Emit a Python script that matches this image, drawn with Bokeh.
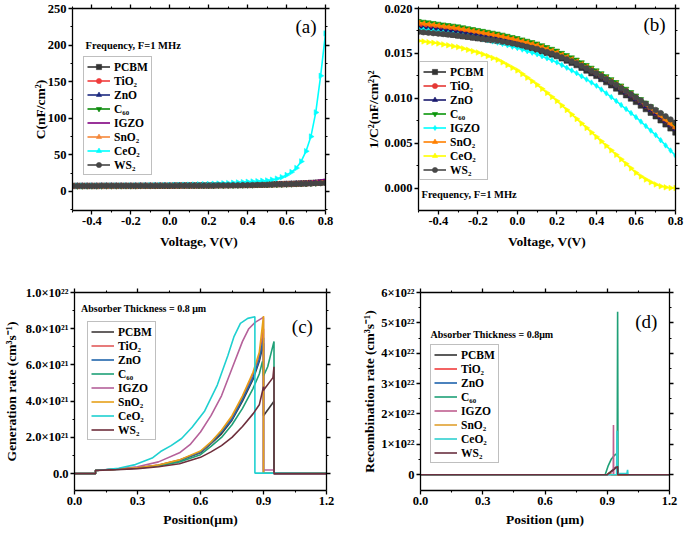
from bokeh.plotting import figure
from bokeh.layouts import column, row
from bokeh.models import (LinearAxis, FixedTicker, NumeralTickFormatter, CustomJSTickFormatter,
                          Legend, LegendItem, Range1d, Label)
from bokeh.embed import file_html
from bokeh.resources import INLINE
import math

FONT = "Liberation Serif"
LABELS = ["PCBM", "TiO₂", "ZnO", "C₆₀", "IGZO", "SnO₂", "CeO₂", "WS₂"]

# ---------------- Panel (a)/(b): voltage sweep ----------------
VOLT = [-0.5, -0.475, -0.45, -0.425, -0.4, -0.375, -0.35, -0.325, -0.3, -0.275, -0.25, -0.225,
        -0.2, -0.175, -0.15, -0.125, -0.1, -0.075, -0.05, -0.025, 0.0, 0.025, 0.05, 0.075,
        0.1, 0.125, 0.15, 0.175, 0.2, 0.225, 0.25, 0.275, 0.3, 0.325, 0.35, 0.375,
        0.4, 0.425, 0.45, 0.475, 0.5, 0.525, 0.55, 0.575, 0.6, 0.625, 0.65, 0.675,
        0.7, 0.725, 0.75, 0.775, 0.8]

# (a) capacitance C (nF/cm^2)
PCBM_A = [7.6, 7.6, 7.6, 7.6, 7.6, 7.6, 7.7, 7.7, 7.7, 7.7, 7.7, 7.7, 7.7, 7.7, 7.8, 7.8, 7.8, 7.8, 7.9, 7.9,
          7.9, 8.0, 8.0, 8.1, 8.1, 8.1, 8.2, 8.2, 8.2, 8.3, 8.4, 8.4, 8.5, 8.6, 8.7, 8.8, 8.9, 9.0, 9.2, 9.3,
          9.5, 9.7, 9.9, 10.0, 10.2, 10.4, 10.7, 10.9, 11.2, 11.6, 11.9, 12.3, 12.7]
TIO2_A = [7.4, 7.4, 7.5, 7.5, 7.5, 7.5, 7.5, 7.5, 7.5, 7.5, 7.6, 7.6, 7.6, 7.6, 7.7, 7.7, 7.7, 7.7, 7.8, 7.8,
          7.8, 7.9, 7.9, 8.0, 8.0, 8.1, 8.1, 8.2, 8.2, 8.3, 8.4, 8.4, 8.5, 8.6, 8.7, 8.8, 8.9, 9.0, 9.2, 9.3,
          9.4, 9.6, 9.8, 9.9, 10.1, 10.3, 10.6, 10.8, 11.1, 11.4, 11.8, 12.2, 12.6]
ZNO_A = [7.5, 7.5, 7.5, 7.5, 7.5, 7.5, 7.6, 7.6, 7.6, 7.6, 7.6, 7.6, 7.6, 7.6, 7.7, 7.7, 7.7, 7.8, 7.8, 7.9,
         7.9, 7.9, 8.0, 8.0, 8.0, 8.1, 8.1, 8.2, 8.2, 8.3, 8.4, 8.4, 8.5, 8.6, 8.7, 8.8, 8.9, 9.0, 9.2, 9.3,
         9.4, 9.6, 9.8, 9.9, 10.1, 10.3, 10.6, 10.8, 11.0, 11.3, 11.7, 12.0, 12.3]
C60_A = [7.3, 7.3, 7.3, 7.4, 7.4, 7.4, 7.4, 7.5, 7.5, 7.5, 7.5, 7.5, 7.5, 7.5, 7.6, 7.6, 7.6, 7.6, 7.7, 7.7,
         7.7, 7.8, 7.8, 7.9, 7.9, 8.0, 8.0, 8.1, 8.1, 8.2, 8.3, 8.3, 8.4, 8.5, 8.5, 8.6, 8.7, 8.8, 9.0, 9.1,
         9.2, 9.4, 9.5, 9.7, 9.9, 10.1, 10.3, 10.5, 10.7, 11.0, 11.3, 11.7, 12.0]
IGZO_A = [7.5, 7.5, 7.6, 7.6, 7.6, 7.6, 7.7, 7.7, 7.7, 7.7, 7.7, 7.7, 7.7, 7.8, 7.8, 7.9, 7.9, 7.9, 8.0, 8.0,
          8.0, 8.1, 8.1, 8.2, 8.2, 8.3, 8.4, 8.4, 8.5, 8.6, 8.6, 8.7, 8.8, 8.9, 9.1, 9.3, 9.4, 9.6, 9.8, 10.0,
          10.2, 10.5, 10.7, 11.0, 11.3, 11.7, 12.1, 12.5, 13.0, 13.8, 14.7, 15.6, 16.7]
SNO2_A = [7.4, 7.4, 7.4, 7.4, 7.4, 7.4, 7.5, 7.5, 7.5, 7.5, 7.6, 7.6, 7.6, 7.6, 7.7, 7.7, 7.7, 7.7, 7.8, 7.8,
          7.8, 7.8, 7.9, 7.9, 7.9, 8.0, 8.0, 8.1, 8.1, 8.2, 8.3, 8.3, 8.4, 8.5, 8.6, 8.7, 8.8, 8.9, 9.1, 9.2,
          9.3, 9.5, 9.7, 9.8, 10.0, 10.2, 10.4, 10.7, 10.9, 11.2, 11.5, 11.9, 12.2]
CEO2_A = [7.8, 7.8, 7.8, 7.9, 7.9, 7.9, 7.9, 8.0, 8.0, 8.0, 8.0, 8.1, 8.1, 8.2, 8.3, 8.3, 8.4, 8.5, 8.6, 8.6,
          8.7, 8.9, 9.0, 9.2, 9.3, 9.5, 9.7, 10.0, 10.2, 10.5, 10.8, 11.1, 11.4, 11.8, 12.3, 12.7, 13.2, 13.6,
          14.0, 14.5, 15.0, 16.0, 17.5, 19.5, 22.5, 26.5, 32.0, 41.0, 55.0, 75.0, 108.0, 158.0, 216.0]
WS2_A = [7.6, 7.6, 7.6, 7.6, 7.6, 7.6, 7.7, 7.7, 7.7, 7.7, 7.7, 7.7, 7.7, 7.7, 7.8, 7.8, 7.8, 7.8, 7.9, 7.9,
         7.9, 7.9, 8.0, 8.0, 8.0, 8.1, 8.1, 8.2, 8.2, 8.3, 8.4, 8.4, 8.5, 8.6, 8.6, 8.7, 8.8, 8.9, 9.1, 9.2,
         9.3, 9.5, 9.7, 9.8, 10.0, 10.2, 10.4, 10.5, 10.7, 10.9, 11.2, 11.4, 11.7]

# (b) 1/C^2 ((nF/cm^2)^-2)
PCBM_B = [0.01750, 0.01745, 0.01740, 0.01735, 0.01730, 0.01722, 0.01715, 0.01708, 0.01700, 0.01692, 0.01685,
          0.01678, 0.01670, 0.01662, 0.01655, 0.01648, 0.01640, 0.01630, 0.01620, 0.01610, 0.01600, 0.01585,
          0.01570, 0.01555, 0.01540, 0.01522, 0.01505, 0.01488, 0.01470, 0.01445, 0.01420, 0.01395, 0.01370,
          0.01340, 0.01310, 0.01280, 0.01250, 0.01215, 0.01180, 0.01145, 0.01110, 0.01072, 0.01035, 0.00998,
          0.00960, 0.00920, 0.00880, 0.00840, 0.00800, 0.00755, 0.00710, 0.00665, 0.00620]
TIO2_B = [0.01810, 0.01805, 0.01800, 0.01795, 0.01790, 0.01782, 0.01775, 0.01768, 0.01760, 0.01752, 0.01745,
          0.01738, 0.01730, 0.01720, 0.01710, 0.01700, 0.01690, 0.01678, 0.01665, 0.01652, 0.01640, 0.01625,
          0.01610, 0.01595, 0.01580, 0.01560, 0.01540, 0.01520, 0.01500, 0.01475, 0.01450, 0.01425, 0.01400,
          0.01370, 0.01340, 0.01310, 0.01280, 0.01248, 0.01215, 0.01182, 0.01150, 0.01112, 0.01075, 0.01038,
          0.01000, 0.00960, 0.00920, 0.00880, 0.00840, 0.00798, 0.00755, 0.00712, 0.00670]
ZNO_B = [0.01790, 0.01785, 0.01780, 0.01775, 0.01770, 0.01762, 0.01755, 0.01748, 0.01740, 0.01732, 0.01725,
         0.01718, 0.01710, 0.01700, 0.01690, 0.01680, 0.01670, 0.01658, 0.01645, 0.01632, 0.01620, 0.01605,
         0.01590, 0.01575, 0.01560, 0.01542, 0.01525, 0.01508, 0.01490, 0.01465, 0.01440, 0.01415, 0.01390,
         0.01360, 0.01330, 0.01300, 0.01270, 0.01238, 0.01205, 0.01172, 0.01140, 0.01102, 0.01065, 0.01028,
         0.00990, 0.00950, 0.00910, 0.00870, 0.00830, 0.00788, 0.00745, 0.00702, 0.00660]
C60_B = [0.01860, 0.01852, 0.01845, 0.01838, 0.01830, 0.01822, 0.01815, 0.01808, 0.01800, 0.01790, 0.01780,
         0.01770, 0.01760, 0.01750, 0.01740, 0.01730, 0.01720, 0.01708, 0.01695, 0.01682, 0.01670, 0.01655,
         0.01640, 0.01625, 0.01610, 0.01590, 0.01570, 0.01550, 0.01530, 0.01505, 0.01480, 0.01455, 0.01430,
         0.01400, 0.01370, 0.01340, 0.01310, 0.01278, 0.01245, 0.01212, 0.01180, 0.01142, 0.01105, 0.01068,
         0.01030, 0.00990, 0.00950, 0.00910, 0.00870, 0.00825, 0.00780, 0.00735, 0.00690]
IGZO_B = [0.01770, 0.01763, 0.01755, 0.01748, 0.01740, 0.01733, 0.01725, 0.01718, 0.01710, 0.01700, 0.01690,
          0.01680, 0.01670, 0.01658, 0.01645, 0.01633, 0.01620, 0.01605, 0.01590, 0.01575, 0.01560, 0.01543,
          0.01525, 0.01508, 0.01490, 0.01468, 0.01445, 0.01423, 0.01400, 0.01370, 0.01340, 0.01310, 0.01280,
          0.01245, 0.01210, 0.01175, 0.01140, 0.01098, 0.01055, 0.01013, 0.00970, 0.00925, 0.00880, 0.00835,
          0.00790, 0.00740, 0.00690, 0.00640, 0.00590, 0.00533, 0.00475, 0.00418, 0.00360]
SNO2_B = [0.01840, 0.01832, 0.01825, 0.01818, 0.01810, 0.01802, 0.01795, 0.01788, 0.01780, 0.01770, 0.01760,
          0.01750, 0.01740, 0.01730, 0.01720, 0.01710, 0.01700, 0.01688, 0.01675, 0.01662, 0.01650, 0.01635,
          0.01620, 0.01605, 0.01590, 0.01570, 0.01550, 0.01530, 0.01510, 0.01485, 0.01460, 0.01435, 0.01410,
          0.01380, 0.01350, 0.01320, 0.01290, 0.01258, 0.01225, 0.01192, 0.01160, 0.01122, 0.01085, 0.01048,
          0.01010, 0.00970, 0.00930, 0.00890, 0.00850, 0.00805, 0.00760, 0.00715, 0.00670]
CEO2_B = [0.01640, 0.01633, 0.01625, 0.01618, 0.01610, 0.01600, 0.01590, 0.01580, 0.01570, 0.01555, 0.01540,
          0.01525, 0.01510, 0.01490, 0.01470, 0.01450, 0.01430, 0.01400, 0.01370, 0.01340, 0.01310, 0.01270,
          0.01230, 0.01190, 0.01150, 0.01105, 0.01060, 0.01015, 0.00970, 0.00920, 0.00870, 0.00820, 0.00770,
          0.00720, 0.00670, 0.00620, 0.00570, 0.00520, 0.00470, 0.00420, 0.00370, 0.00320, 0.00270, 0.00220,
          0.00170, 0.00130, 0.00095, 0.00065, 0.00040, 0.00020, 0.00008, 0.00002, 0.00000]
WS2_B = [0.01740, 0.01735, 0.01730, 0.01725, 0.01720, 0.01715, 0.01710, 0.01705, 0.01700, 0.01692, 0.01685,
         0.01678, 0.01670, 0.01662, 0.01655, 0.01648, 0.01640, 0.01630, 0.01620, 0.01610, 0.01600, 0.01588,
         0.01575, 0.01562, 0.01550, 0.01532, 0.01515, 0.01498, 0.01480, 0.01458, 0.01435, 0.01412, 0.01390,
         0.01362, 0.01335, 0.01308, 0.01280, 0.01248, 0.01215, 0.01182, 0.01150, 0.01115, 0.01080, 0.01045,
         0.01010, 0.00975, 0.00940, 0.00905, 0.00870, 0.00835, 0.00800, 0.00765, 0.00730]

# ---------------- Panel (c): generation rate, units of 1e21 cm^-3 s^-1 ----------------
GEN_PCBM_X = [0.0, 0.1, 0.1, 0.2, 0.3, 0.4, 0.5, 0.6, 0.65, 0.7, 0.75, 0.8, 0.85, 0.88, 0.9, 0.9, 0.95, 0.95, 1.2]
GEN_PCBM_Y = [0.0, 0.0, 0.18, 0.24, 0.31, 0.45, 0.72, 1.15, 1.65, 2.2, 2.95, 4.0, 5.2, 6.2, 7.2, 3.2, 4.0, 0.0, 0.0]
GEN_TIO2_X = [0.0, 0.1, 0.1, 0.2, 0.3, 0.4, 0.5, 0.6, 0.65, 0.7, 0.75, 0.8, 0.85, 0.88, 0.9, 0.9, 1.2]
GEN_TIO2_Y = [0.0, 0.0, 0.18, 0.24, 0.32, 0.47, 0.75, 1.2, 1.7, 2.35, 3.1, 4.2, 5.5, 6.5, 8.0, 0.03, 0.02]
GEN_ZNO_X = [0.0, 0.1, 0.1, 0.2, 0.3, 0.4, 0.5, 0.6, 0.65, 0.7, 0.75, 0.8, 0.85, 0.88, 0.9, 0.9, 1.2]
GEN_ZNO_Y = [0.0, 0.0, 0.18, 0.24, 0.32, 0.46, 0.74, 1.2, 1.7, 2.3, 3.0, 4.1, 5.3, 6.3, 7.5, 0.03, 0.02]
GEN_C60_X = [0.0, 0.1, 0.1, 0.2, 0.3, 0.4, 0.5, 0.6, 0.65, 0.7, 0.75, 0.8, 0.85, 0.88, 0.895, 0.9, 0.92, 0.95, 0.95, 1.2]
GEN_C60_Y = [0.0, 0.0, 0.18, 0.23, 0.3, 0.42, 0.65, 1.05, 1.5, 2.0, 2.7, 3.6, 4.7, 5.5, 6.2, 5.4, 5.9, 7.3, 0.0, 0.0]
GEN_IGZO_X = [0.0, 0.1, 0.1, 0.2, 0.3, 0.4, 0.5, 0.55, 0.6, 0.65, 0.7, 0.75, 0.8, 0.83, 0.86, 0.895, 0.9, 0.9, 0.95, 0.95, 1.2]
GEN_IGZO_Y = [0.0, 0.0, 0.18, 0.25, 0.38, 0.65, 1.15, 1.6, 2.3, 3.2, 4.3, 5.8, 7.3, 8.0, 8.35, 8.6, 8.62, 0.2, 0.2, 0.0, 0.0]
GEN_SNO2_X = [0.0, 0.1, 0.1, 0.2, 0.3, 0.4, 0.5, 0.6, 0.65, 0.7, 0.75, 0.8, 0.85, 0.88, 0.895, 0.9, 0.9, 1.2]
GEN_SNO2_Y = [0.0, 0.0, 0.18, 0.24, 0.32, 0.48, 0.76, 1.25, 1.75, 2.4, 3.2, 4.3, 5.6, 6.7, 8.2, 8.7, 0.03, 0.02]
GEN_CEO2_X = [0.0, 0.1, 0.1, 0.15, 0.21, 0.29, 0.37, 0.41, 0.46, 0.51, 0.56, 0.62, 0.68, 0.73, 0.76, 0.79, 0.825, 0.859, 0.859, 0.95, 1.2]
GEN_CEO2_Y = [0.0, 0.0, 0.18, 0.22, 0.30, 0.50, 0.86, 1.22, 1.55, 1.94, 2.56, 3.46, 4.89, 6.51, 7.58, 8.30, 8.57, 8.66, 0.03, 0.03, 0.02]
GEN_WS2_X = [0.0, 0.1, 0.1, 0.2, 0.3, 0.4, 0.5, 0.6, 0.65, 0.7, 0.75, 0.8, 0.85, 0.88, 0.9, 0.9, 0.945, 0.95, 0.95, 1.2]
GEN_WS2_Y = [0.0, 0.0, 0.18, 0.22, 0.28, 0.38, 0.55, 0.9, 1.2, 1.55, 2.0, 2.6, 3.3, 3.8, 4.8, 4.6, 5.3, 5.9, 0.0, 0.0]

# ---------------- Panel (d): recombination rate, units of 1e22 cm^-3 s^-1 ----------------
REC_PCBM_X = [0.0, 0.9, 0.92, 0.94, 0.95, 0.951, 1.2]
REC_PCBM_Y = [0.0, 0.0, 0.12, 0.24, 0.28, 0.0, 0.0]
REC_TIO2_X = [0.0, 0.9, 0.91, 0.92, 1.2]
REC_TIO2_Y = [0.0, 0.0, 0.05, 0.0, 0.0]
REC_ZNO_X = [0.0, 0.9, 0.91, 0.92, 1.2]
REC_ZNO_Y = [0.0, 0.0, 0.05, 0.0, 0.0]
REC_C60_X = [0.0, 0.89, 0.905, 0.92, 0.935, 0.948, 0.95, 0.952, 1.2]
REC_C60_Y = [0.0, 0.0, 0.3, 0.52, 0.64, 0.7, 5.37, 0.0, 0.0]
REC_IGZO_X = [0.0, 0.929, 0.93, 0.931, 1.2]
REC_IGZO_Y = [0.0, 0.0, 1.64, 0.0, 0.0]
REC_SNO2_X = [0.0, 0.9, 0.91, 0.92, 1.2]
REC_SNO2_Y = [0.0, 0.0, 0.05, 0.0, 0.0]
REC_CEO2_X = [0.0, 0.945, 0.947, 0.949, 0.995, 0.998, 1.0, 1.2]
REC_CEO2_Y = [0.0, 0.0, 1.45, 0.04, 0.04, 0.16, 0.0, 0.0]
REC_WS2_X = [0.0, 0.9, 0.92, 0.94, 0.95, 0.951, 1.2]
REC_WS2_Y = [0.0, 0.0, 0.1, 0.22, 0.27, 0.0, 0.0]

GEN_TICKS = [0, 2, 4, 6, 8, 10]
GEN_TICK_LABELS = ["0.0", "2.0×10²¹", "4.0×10²¹", "6.0×10²¹", "8.0×10²¹", "1.0×10²²"]
REC_TICKS = [0, 1, 2, 3, 4, 5, 6]
REC_TICK_LABELS = ["0", "1×10²²", "2×10²²", "3×10²²", "4×10²²", "5×10²²", "6×10²²"]


def make_fig(w, h, left, right, top, bottom, xr, yr):
    p = figure(width=w, height=h, x_range=Range1d(*xr), y_range=Range1d(*yr),
               output_backend="svg", toolbar_location=None, tools="",
               min_border_left=left, min_border_right=right,
               min_border_top=top, min_border_bottom=bottom)
    p.xgrid.visible = False
    p.ygrid.visible = False
    p.outline_line_color = None
    p.background_fill_color = "white"
    p.border_fill_color = "white"
    return p


def tick_style(ax, ticks, minor):
    ax.ticker = FixedTicker(ticks=ticks, minor_ticks=minor)
    ax.axis_line_color = "black"
    ax.axis_line_width = 1.3
    ax.major_tick_line_color = "black"
    ax.major_tick_line_width = 1.3
    ax.minor_tick_line_color = "black"
    ax.minor_tick_line_width = 1.1
    ax.major_tick_in = 0
    ax.major_tick_out = 4
    ax.minor_tick_in = 0
    ax.minor_tick_out = 2


def setup_axes(p, xt, xm, yt, ym, xfmt, yfmt, xlabel, ylabel, xstand, ystand, yover=None):
    xa = p.xaxis[0]
    ya = p.yaxis[0]
    tick_style(xa, xt, xm)
    tick_style(ya, yt, ym)
    xa.formatter = xfmt
    if yfmt is not None:
        ya.formatter = yfmt
    if yover is not None:
        ya.major_label_overrides = yover
    for ax in (xa, ya):
        ax.major_label_text_font = FONT
        ax.major_label_text_font_style = "bold"
        ax.major_label_text_font_size = "12.5px"
        ax.major_label_text_color = "black"
        ax.major_label_standoff = 2
        ax.axis_label_text_font = FONT
        ax.axis_label_text_font_style = "bold"
        ax.axis_label_text_font_size = "13.5px"
        ax.axis_label_text_color = "black"
    xa.axis_label = xlabel
    ya.axis_label = ylabel
    xa.axis_label_standoff = xstand
    ya.axis_label_standoff = ystand
    top = LinearAxis(formatter=CustomJSTickFormatter(code="return '';"),
                     major_label_text_font_size="0px", major_label_standoff=0)
    tick_style(top, xt, xm)
    right = LinearAxis(formatter=CustomJSTickFormatter(code="return '';"),
                       major_label_text_font_size="0px", major_label_standoff=0)
    tick_style(right, yt, ym)
    p.add_layout(top, "above")
    p.add_layout(right, "right")


def add_legend(p, items, loc):
    lg = Legend(items=items, location=loc, orientation="vertical")
    lg.label_text_font = FONT
    lg.label_text_font_style = "bold"
    lg.label_text_font_size = "11.5px"
    lg.label_text_color = "black"
    lg.glyph_width = 23
    lg.glyph_height = 13
    lg.label_height = 13
    lg.label_standoff = 4
    lg.spacing = 1
    lg.padding = 3
    lg.margin = 0
    lg.border_line_color = "#808080"
    lg.border_line_width = 1
    lg.background_fill_color = "white"
    lg.background_fill_alpha = 1.0
    p.add_layout(lg)


def add_text(p, x, y, text, size, bold=True):
    p.add_layout(Label(x=x, y=y, text=text, text_font=FONT, text_font_size=size,
                       text_font_style="bold" if bold else "normal", text_color="black",
                       text_baseline="middle", text_align="left"))


def marker_series(p, xs, series, colors, markers, angles, size):
    items = []
    for lab, ys, col, mk, ang in zip(LABELS, series, colors, markers, angles):
        l = p.line(xs, ys, line_color=col, line_width=1.6)
        s = p.scatter(xs, ys, marker=mk, angle=ang, size=size, fill_color=col,
                      line_color=col, line_width=0.6)
        items.append(LegendItem(label=lab, renderers=[l, s]))
    return items


def line_series(p, xs_list, ys_list, colors, width=1.6):
    items = []
    for lab, xs, ys, col in zip(LABELS, xs_list, ys_list, colors):
        l = p.line(xs, ys, line_color=col, line_width=width)
        items.append(LegendItem(label=lab, renderers=[l]))
    return items


XT_V = [-0.4, -0.2, 0.0, 0.2, 0.4, 0.6, 0.8]
XM_V = [-0.5, -0.3, -0.1, 0.1, 0.3, 0.5, 0.7]
XT_P = [0.0, 0.3, 0.6, 0.9, 1.2]
XM_P = [0.15, 0.45, 0.75, 1.05]
ANGLES = [0, 0, 0, 0, 0, math.pi / 2, -math.pi / 2, 0]

# ---- (a)
pa = make_fig(340, 268, 72, 15, 8, 58, (-0.5, 0.8), (-26, 250))
setup_axes(pa, XT_V, XM_V, [0, 50, 100, 150, 200, 250], [-25, 25, 75, 125, 175, 225],
           NumeralTickFormatter(format="0.0"), NumeralTickFormatter(format="0"),
           "Voltage, V(V)", "C(nF/cm²)", 6, -3)
cols_a = ["#333333", "#f03c3c", "#1c2a80", "#0a8a0a", "#800080", "#f5883a", "#00ffff", "#454545"]
items_a = marker_series(pa, VOLT, [PCBM_A, TIO2_A, ZNO_A, C60_A, IGZO_A, SNO2_A, CEO2_A, WS2_A],
                        cols_a, ["square", "circle", "triangle", "inverted_triangle", "hexagon",
                                 "triangle", "triangle", "circle"], ANGLES, 5.5)
add_legend(pa, items_a, (11, 35))
add_text(pa, -0.433, 199, "Frequency, F=1 MHz", "10.5px")
add_text(pa, 0.646, 225, "(a)", "19px", bold=False)

# ---- (b)
pb = make_fig(345, 268, 78, 10, 8, 55, (-0.5, 0.8), (-0.0025, 0.020))
setup_axes(pb, XT_V, XM_V, [0.0, 0.005, 0.010, 0.015, 0.020], [0.0025, 0.0075, 0.0125, 0.0175],
           NumeralTickFormatter(format="0.0"), NumeralTickFormatter(format="0.000"),
           "Voltage, V(V)", "1/C²(nF/cm²)²", 6, 0)
cols_b = ["#333333", "#e53935", "#1a1a6e", "#0a960a", "#00ffff", "#ff8000", "#ffff00", "#484848"]
items_b = marker_series(pb, VOLT, [PCBM_B, TIO2_B, ZNO_B, C60_B, IGZO_B, SNO2_B, CEO2_B, WS2_B],
                        cols_b, ["square", "circle", "triangle", "inverted_triangle", "diamond",
                                 "triangle", "triangle", "circle"], ANGLES, 5.5)
add_legend(pb, items_b, (1, 30))
add_text(pb, -0.485, -0.00073, "Frequency, F=1 MHz", "10.5px")
add_text(pb, 0.638, 0.0182, "(b)", "19px", bold=False)

# ---- (c)
pc = make_fig(340, 268, 73, 14, 18, 46, (0.0, 1.2), (-0.93, 10.0))
setup_axes(pc, XT_P, XM_P, GEN_TICKS, [1, 3, 5, 7, 9],
           NumeralTickFormatter(format="0.0"), None,
           "Position(μm)", "Generation rate (cm³s⁻¹)", 4, 4,
           yover=dict(zip(GEN_TICKS, GEN_TICK_LABELS)))
cols_c = ["#3f3a3a", "#e25a5a", "#2166ac", "#1fa077", "#b5619a", "#e6a019", "#1fd0d0", "#6e2f3c"]
items_c = line_series(pc,
                      [GEN_PCBM_X, GEN_TIO2_X, GEN_ZNO_X, GEN_C60_X, GEN_IGZO_X, GEN_SNO2_X, GEN_CEO2_X, GEN_WS2_X],
                      [GEN_PCBM_Y, GEN_TIO2_Y, GEN_ZNO_Y, GEN_C60_Y, GEN_IGZO_Y, GEN_SNO2_Y, GEN_CEO2_Y, GEN_WS2_Y],
                      cols_c)
add_legend(pc, items_c, (13, 50))
add_text(pc, 0.031, 9.1, "Absorber Thickness = 0.8 μm", "10px")
add_text(pc, 1.035, 8.12, "(c)", "19px", bold=False)

# ---- (d)
pd_ = make_fig(345, 268, 80, 16, 24, 43, (0.0, 1.2), (-0.52, 6.0))
setup_axes(pd_, XT_P, XM_P, REC_TICKS, [0.5, 1.5, 2.5, 3.5, 4.5, 5.5],
           NumeralTickFormatter(format="0.0"), None,
           "Position (μm)", "Recombination rate (cm³s⁻¹)", 4, 1,
           yover=dict(zip(REC_TICKS, REC_TICK_LABELS)))
cols_d = ["#333333", "#f03c3c", "#1f63ad", "#1fa077", "#c06090", "#e0a030", "#30d0d0", "#6a3040"]
items_d = line_series(pd_,
                      [REC_PCBM_X, REC_TIO2_X, REC_ZNO_X, REC_C60_X, REC_IGZO_X, REC_SNO2_X, REC_CEO2_X, REC_WS2_X],
                      [REC_PCBM_Y, REC_TIO2_Y, REC_ZNO_Y, REC_C60_Y, REC_IGZO_Y, REC_SNO2_Y, REC_CEO2_Y, REC_WS2_Y],
                      cols_d)
add_legend(pd_, items_d, (10, 27))
add_text(pd_, 0.048, 4.62, "Absorber Thickness = 0.8μm", "10px")
add_text(pd_, 1.035, 5.06, "(d)", "19px", bold=False)

layout = column(row(pa, pb), row(pc, pd_))
open("out.html", "w").write(file_html(layout, INLINE))
